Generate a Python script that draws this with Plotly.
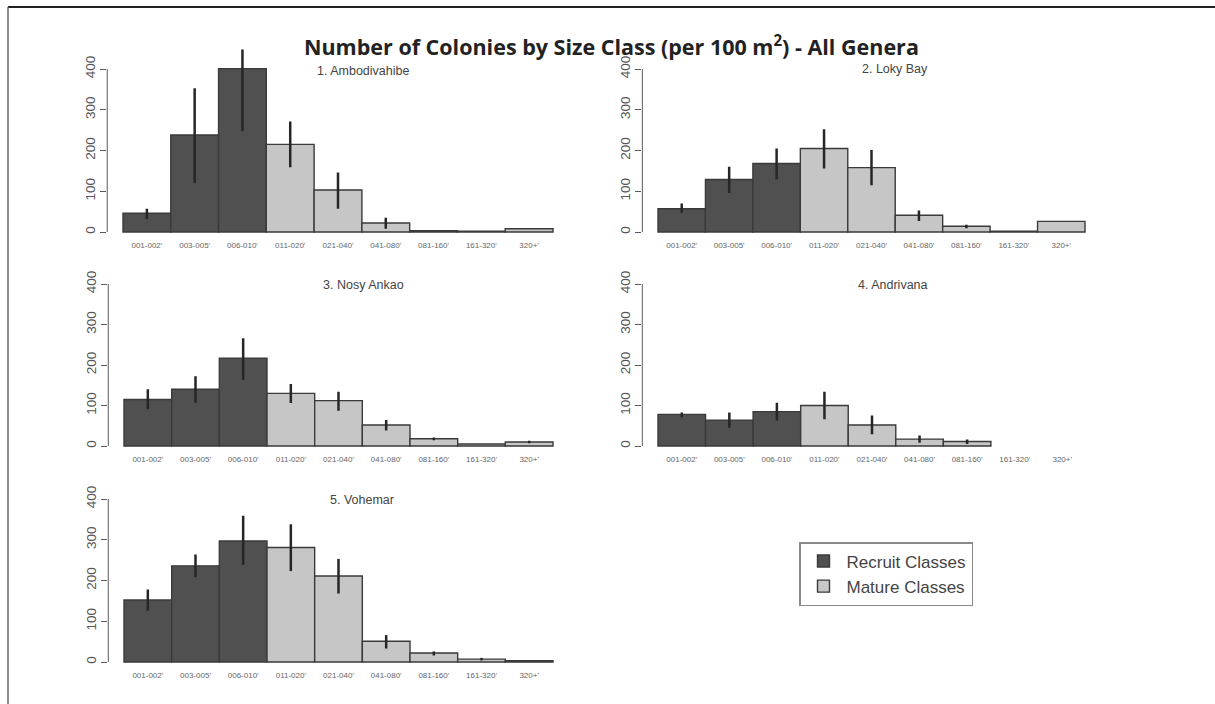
import plotly.graph_objects as go

# Size classes (cm) shared by every site
size_classes = ["001-002'", "003-005'", "006-010'", "011-020'", "021-040'",
                "041-080'", "081-160'", "161-320'", "320+'"]
n_recruit = 3  # first three classes are recruit classes

# Colonies per 100 m2 (mean) with lower / upper limits of the error bars
ambodivahibe_mean = [46, 238, 401, 215, 103, 22, 3, 2, 8]
ambodivahibe_lo = [32, 121, 248, 159, 57, 8, None, None, None]
ambodivahibe_hi = [57, 353, 448, 271, 146, 35, None, None, None]

loky_mean = [57, 129, 168, 205, 158, 41, 14, 2, 26]
loky_lo = [47, 96, 129, 156, 115, 27, 9, None, None]
loky_hi = [70, 160, 205, 252, 201, 53, 18, None, None]

ankao_mean = [115, 140, 217, 130, 112, 52, 18, 5, 10]
ankao_lo = [91, 107, 163, 106, 87, 38, 14, None, 7]
ankao_hi = [140, 172, 266, 153, 134, 64, 21, None, 13]

andrivana_mean = [78, 64, 85, 100, 52, 17, 11, None, None]
andrivana_lo = [71, 45, 63, 66, 29, 8, 5, None, None]
andrivana_hi = [83, 83, 107, 134, 75, 26, 16, None, None]

vohemar_mean = [152, 236, 297, 281, 211, 51, 22, 7, 3]
vohemar_lo = [126, 208, 238, 223, 168, 33, 16, 4, None]
vohemar_hi = [178, 264, 359, 338, 253, 66, 26, 10, None]

site_names = ["1. Ambodivahibe", "2. Loky Bay", "3. Nosy Ankao",
              "4. Andrivana", "5. Vohemar"]
site_means = [ambodivahibe_mean, loky_mean, ankao_mean, andrivana_mean, vohemar_mean]
site_lo = [ambodivahibe_lo, loky_lo, ankao_lo, andrivana_lo, vohemar_lo]
site_hi = [ambodivahibe_hi, loky_hi, ankao_hi, andrivana_hi, vohemar_hi]

y_ticks = [0, 100, 200, 300, 400]

W, H = 1215, 704
RECRUIT_COL = "#505050"
MATURE_COL = "#c6c6c6"
EDGE_COL = "#3a3a3a"
AXIS_COL = "#5a5a5a"
XR = (-0.33, 9.33)
YR = (-10, 460)

# panel placement in pixels: left edge of first bar, right edge of last bar,
# pixel row of y=0 and of y=400, title centre
panels = [
    dict(b0=123, b9=553, y0=232, y400=69, tx=363, ty=71),
    dict(b0=658, b9=1085, y0=232, y400=69, tx=895, ty=69),
    dict(b0=124, b9=553, y0=446, y400=284, tx=363, ty=285),
    dict(b0=658, b9=1086, y0=446, y400=284, tx=893, ty=285),
    dict(b0=124, b9=553, y0=662, y400=499, tx=362, ty=500),
]

fig = go.Figure()
layout = {}
shapes = []
annotations = []

for i, p in enumerate(panels):
    k = "" if i == 0 else str(i + 1)
    xa, ya = "x" + k, "y" + k
    ux = (p["b9"] - p["b0"]) / 9.0
    left = p["b0"] + XR[0] * ux
    right = p["b0"] + XR[1] * ux
    uy = (p["y0"] - p["y400"]) / 400.0
    bottom = p["y0"] - YR[0] * uy
    top = p["y0"] - YR[1] * uy

    mean, lo, hi = site_means[i], site_lo[i], site_hi[i]
    xs = [j + 0.5 for j in range(len(size_classes))]
    plus = [None if h is None else h - m for h, m in zip(hi, mean)]
    minus = [None if l is None else m - l for l, m in zip(lo, mean)]

    for name, idx, col in [("Recruit Classes", range(0, n_recruit), RECRUIT_COL),
                           ("Mature Classes", range(n_recruit, len(size_classes)), MATURE_COL)]:
        idx = list(idx)
        fig.add_trace(go.Bar(
            x=[xs[j] for j in idx], y=[mean[j] for j in idx], width=1.0,
            marker=dict(color=col, line=dict(color=EDGE_COL, width=1.4)),
            error_y=dict(type="data", symmetric=False,
                         array=[plus[j] if plus[j] is not None else 0 for j in idx],
                         arrayminus=[minus[j] if minus[j] is not None else 0 for j in idx],
                         color="#262626", thickness=2.5, width=0),
            name=name, showlegend=(i == 0), legendgroup=name,
            xaxis=xa, yaxis=ya, cliponaxis=False,
        ))

    layout["xaxis" + k] = dict(
        domain=[left / W, right / W], range=list(XR), anchor=ya,
        tickmode="array", tickvals=xs, ticktext=size_classes,
        showline=False, showgrid=False, zeroline=False, ticks="",
        tickfont=dict(family="Liberation Sans, Arial", size=8, color="#666666"),
        ticklabelstandoff=3, fixedrange=True,
    )
    layout["yaxis" + k] = dict(
        domain=[1 - bottom / H, 1 - top / H], range=list(YR), anchor=xa,
        tickmode="array", tickvals=y_ticks, tickangle=-90,
        showline=False, showgrid=False, zeroline=False,
        ticks="outside", ticklen=6, tickwidth=1, tickcolor=AXIS_COL,
        tickfont=dict(family="Liberation Sans, Arial", size=13.5, color="#555555"),
        fixedrange=True,
    )
    # R-style axis line running only from 0 to 400
    shapes.append(dict(type="line", xref=xa + " domain", yref=ya,
                       x0=0, x1=0, y0=y_ticks[0], y1=y_ticks[-1],
                       line=dict(color=AXIS_COL, width=1)))
    annotations.append(dict(text=site_names[i], xref="paper", yref="paper",
                            x=p["tx"] / W, y=1 - p["ty"] / H, showarrow=False,
                            xanchor="center", yanchor="middle",
                            font=dict(family="Liberation Sans, Arial", size=12.5, color="#444444")))

# main title
annotations.append(dict(
    text="<b>Number of Colonies by Size Class (per 100 m<sup>2</sup>) - All Genera</b>",
    xref="paper", yref="paper", x=611 / W, y=1 - 45 / H, showarrow=False,
    xanchor="center", yanchor="middle",
    font=dict(family="Open Sans, DejaVu Sans", size=21.5, color="#222222")))

# page frame (top and left rules)
shapes.append(dict(type="line", xref="paper", yref="paper", x0=8 / W, x1=1,
                   y0=1 - 7 / H, y1=1 - 7 / H, line=dict(color="#222222", width=2)))
shapes.append(dict(type="line", xref="paper", yref="paper", x0=8 / W, x1=8 / W,
                   y0=0, y1=1 - 7 / H, line=dict(color="#666666", width=1.5)))

fig.update_layout(
    width=W, height=H, margin=dict(l=0, r=0, t=0, b=0),
    paper_bgcolor="white", plot_bgcolor="white",
    barmode="overlay", shapes=shapes, annotations=annotations,
    showlegend=True,
    legend=dict(x=799 / W, y=1 - 542 / H, xanchor="left", yanchor="top",
                bordercolor="#8a8a8a", borderwidth=1.5, bgcolor="white",
                font=dict(family="Liberation Sans, Arial", size=17, color="#444444"),
                itemwidth=36, tracegroupgap=0, itemclick=False, itemdoubleclick=False),
    **layout,
)

fig.write_html("out.html", config={"displayModeBar": False})
